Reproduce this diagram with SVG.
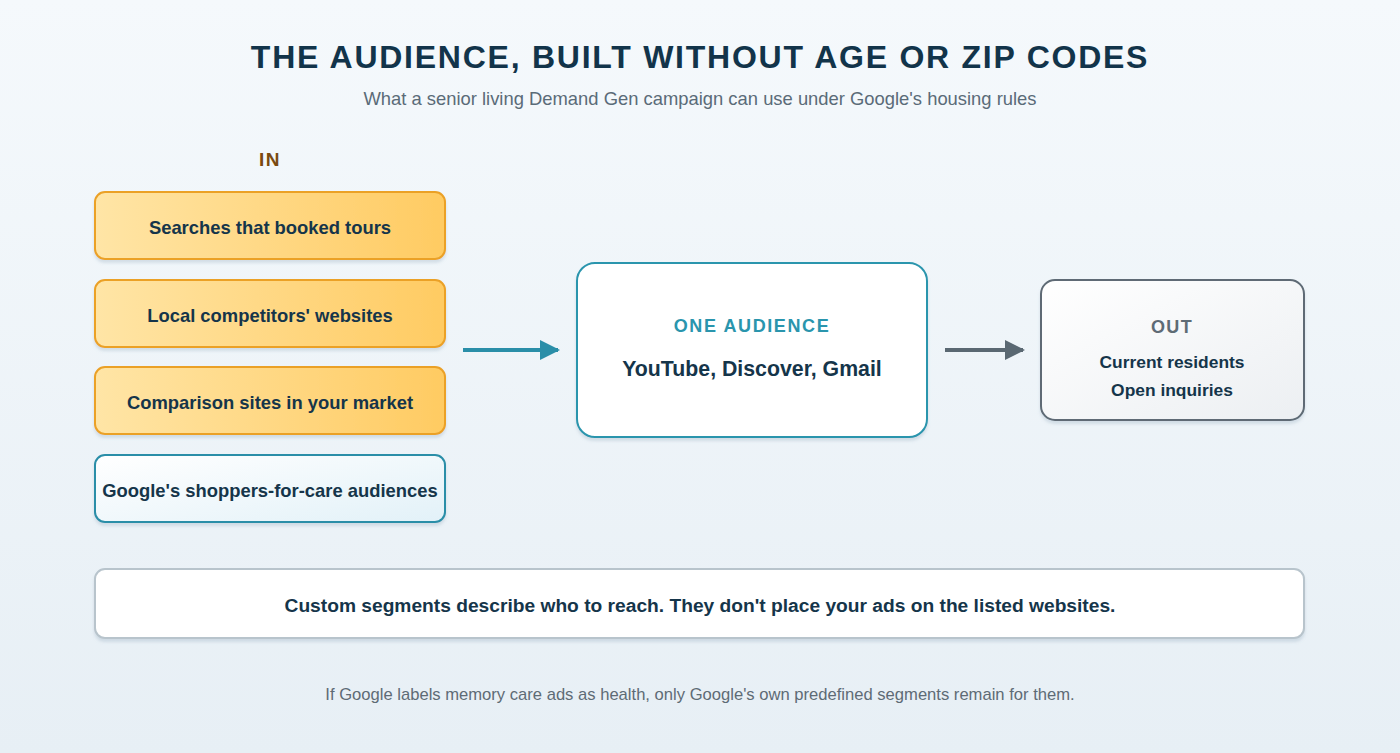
<svg xmlns="http://www.w3.org/2000/svg" width="1400" height="753" viewBox="0 0 1400 753">
  <defs>
    <linearGradient id="bg" x1="0" y1="0" x2="0" y2="1">
      <stop offset="0" stop-color="#f5f9fc"/>
      <stop offset="1" stop-color="#e7eff5"/>
    </linearGradient>
    <linearGradient id="gold" x1="0" y1="0" x2="1" y2="0">
      <stop offset="0" stop-color="#ffe5a6"/>
      <stop offset="1" stop-color="#ffcb62"/>
    </linearGradient>
    <linearGradient id="ice" x1="0" y1="0" x2="1" y2="1">
      <stop offset="0" stop-color="#ffffff"/>
      <stop offset="1" stop-color="#e2f1f8"/>
    </linearGradient>
    <linearGradient id="grey" x1="0" y1="0" x2="1" y2="1">
      <stop offset="0" stop-color="#ffffff"/>
      <stop offset="1" stop-color="#eceff2"/>
    </linearGradient>
    <filter id="sh" x="-10%" y="-20%" width="120%" height="150%">
      <feDropShadow dx="0" dy="3" stdDeviation="1.5" flood-color="#7a98ad" flood-opacity="0.25"/>
    </filter>
    <marker id="ahTeal" markerWidth="5" markerHeight="5" refX="4.5" refY="2.5" orient="auto" markerUnits="strokeWidth">
      <path d="M0,0 L5,2.5 L0,5 Z" fill="#2a8ea8"/>
    </marker>
    <marker id="ahGrey" markerWidth="5" markerHeight="5" refX="4.5" refY="2.5" orient="auto" markerUnits="strokeWidth">
      <path d="M0,0 L5,2.5 L0,5 Z" fill="#5a6872"/>
    </marker>
  </defs>
  <style>
    text { font-family: "Liberation Sans", Arial, sans-serif; text-anchor: middle; }
    .title { font-size: 32px; font-weight: bold; fill: #12344a; letter-spacing: 1.75px; }
    .sub { font-size: 18.4px; fill: #5a6b78; }
    .lbl { font-size: 18.4px; font-weight: bold; fill: #15354a; }
    .outl { font-size: 17.4px; font-weight: bold; fill: #15354a; }
    .in { font-size: 19px; font-weight: bold; fill: #7a4a10; letter-spacing: 1.5px; }
    .gold { fill: url(#gold); stroke: #eba127; stroke-width: 2; }
    .ice { fill: url(#ice); stroke: #2a8ea8; stroke-width: 2; }
    .foot { font-size: 16.6px; fill: #5e6b75; }
  </style>
  <rect x="0" y="0" width="1400" height="753" fill="url(#bg)"/>

  <text class="title" x="700" y="68">THE AUDIENCE, BUILT WITHOUT AGE OR ZIP CODES</text>
  <text class="sub" x="700" y="105">What a senior living Demand Gen campaign can use under Google's housing rules</text>

  <text class="in" x="270" y="166">IN</text>

  <g id="in-searches">
    <rect class="gold" x="95" y="192" width="350" height="67" rx="10" filter="url(#sh)"/>
    <text class="lbl" x="270" y="234">Searches that booked tours</text>
  </g>
  <g id="in-competitors">
    <rect class="gold" x="95" y="280" width="350" height="67" rx="10" filter="url(#sh)"/>
    <text class="lbl" x="270" y="322">Local competitors' websites</text>
  </g>
  <g id="in-comparison">
    <rect class="gold" x="95" y="367" width="350" height="67" rx="10" filter="url(#sh)"/>
    <text class="lbl" x="270" y="409">Comparison sites in your market</text>
  </g>
  <g id="in-shoppers">
    <rect class="ice" x="95" y="455" width="350" height="67" rx="10" filter="url(#sh)"/>
    <text class="lbl" x="270" y="497">Google's shoppers-for-care audiences</text>
  </g>

  <g id="connectors">
    <line x1="463" y1="350" x2="558" y2="350" stroke="#2a8ea8" stroke-width="4" marker-end="url(#ahTeal)"/>
    <line x1="945" y1="350" x2="1023" y2="350" stroke="#5a6872" stroke-width="4" marker-end="url(#ahGrey)"/>
  </g>

  <g id="one-audience">
    <rect x="577" y="263" width="350" height="174" rx="18" fill="#ffffff" stroke="#2a95ad" stroke-width="2" filter="url(#sh)"/>
    <text x="752" y="332" style="font-size:18px;font-weight:bold;fill:#2a95ad;letter-spacing:1.6px">ONE AUDIENCE</text>
    <text x="752" y="376" style="font-size:21.3px;font-weight:bold;fill:#15354a">YouTube, Discover, Gmail</text>
  </g>

  <g id="out">
    <rect x="1041" y="280" width="263" height="140" rx="14" fill="url(#grey)" stroke="#5e6b75" stroke-width="2" filter="url(#sh)"/>
    <text x="1172" y="333" style="font-size:18px;font-weight:bold;fill:#5e6b75;letter-spacing:1.3px">OUT</text>
    <text class="outl" x="1172" y="368">Current residents</text>
    <text class="outl" x="1172" y="396">Open inquiries</text>
  </g>

  <g id="note">
    <rect x="95" y="569" width="1209" height="69" rx="10" fill="#ffffff" stroke="#b8c4cc" stroke-width="2" filter="url(#sh)"/>
    <text x="700" y="612" style="font-size:19.2px;font-weight:bold;fill:#15354a">Custom segments describe who to reach. They don't place your ads on the listed websites.</text>
  </g>

  <text class="foot" x="700" y="700">If Google labels memory care ads as health, only Google's own predefined segments remain for them.</text>
</svg>
